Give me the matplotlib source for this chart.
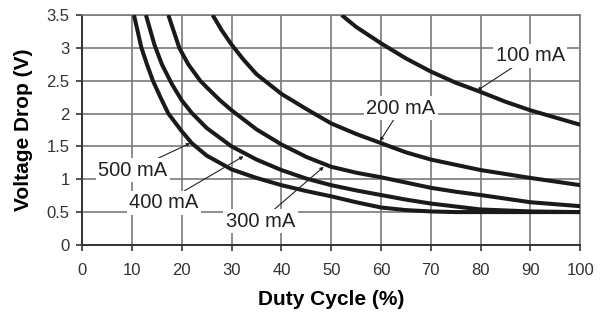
import matplotlib
matplotlib.use("Agg")
import matplotlib.pyplot as plt

plt.rcParams["font.family"] = ["Liberation Sans", "DejaVu Sans"]

# curves, (duty cycle %, voltage drop V)
x_100 = [52.1, 55, 60, 65, 70, 75, 80, 85, 90, 95, 100]
y_100 = [3.5, 3.32, 3.07, 2.84, 2.64, 2.47, 2.33, 2.18, 2.05, 1.94, 1.83]

x_200 = [26.2, 28, 30, 32.4, 35, 40, 45, 50, 55, 60, 65, 70, 75, 80, 90, 100]
y_200 = [3.5, 3.27, 3.05, 2.82, 2.6, 2.3, 2.07, 1.85, 1.69, 1.55, 1.41, 1.3, 1.22, 1.14, 1.02, 0.91]

x_300 = [17.3, 19.5, 21.3, 23.7, 25, 27.7, 30, 35, 40, 45, 50, 55, 60, 65, 70, 75, 80, 90, 100]
y_300 = [3.5, 3.0, 2.75, 2.5, 2.4, 2.2, 2.05, 1.76, 1.53, 1.34, 1.19, 1.1, 1.03, 0.95, 0.87, 0.81, 0.76, 0.65, 0.59]

x_400 = [12.8, 14.5, 16, 18, 20, 22, 25, 30, 35, 40, 45, 50, 55, 60, 65, 70, 80, 90, 100]
y_400 = [3.5, 3.05, 2.75, 2.45, 2.2, 2.01, 1.78, 1.5, 1.3, 1.14, 1.01, 0.91, 0.83, 0.76, 0.69, 0.63, 0.54, 0.51, 0.5]

x_500 = [10.4, 11.9, 13.0, 14.2, 15.7, 17.3, 20, 22, 25, 30, 35, 40, 45, 50, 55, 60, 65, 70, 75, 80, 90, 100]
y_500 = [3.5, 3.0, 2.75, 2.5, 2.25, 2.0, 1.73, 1.55, 1.36, 1.15, 1.02, 0.91, 0.82, 0.74, 0.65, 0.57, 0.53, 0.51, 0.5, 0.5, 0.5, 0.5]

x_ticks = [0, 10, 20, 30, 40, 50, 60, 70, 80, 90, 100]
y_ticks = [0, 0.5, 1, 1.5, 2, 2.5, 3, 3.5]
y_ticklabels = ["0", "0.5", "1", "1.5", "2", "2.5", "3", "3.5"]


def main():
    fig = plt.figure(figsize=(6, 3.14), dpi=100)
    ax = fig.add_axes([0.137, 0.22, 0.83, 0.732])

    grid_c = "#7a7a7a"
    for xs, ys in [(x_100, y_100), (x_200, y_200), (x_300, y_300),
                   (x_400, y_400), (x_500, y_500)]:
        ax.plot(xs, ys, color="#1a1a1a", lw=2.9, solid_capstyle="butt",
                solid_joinstyle="round", zorder=3)

    ax.set_xlim(0, 100)
    ax.set_ylim(0, 3.5)
    ax.set_xticks(x_ticks)
    ax.set_yticks(y_ticks)
    ax.set_yticklabels(y_ticklabels)
    ax.grid(True, color=grid_c, lw=1.2)
    ax.set_axisbelow(True)
    ax.tick_params(axis="both", labelsize=12, colors="#333333", length=4, width=1.2)
    ax.tick_params(axis="x", pad=9)
    ax.tick_params(axis="y", pad=5)

    for s in ["top", "right"]:
        ax.spines[s].set_color(grid_c)
        ax.spines[s].set_linewidth(1.2)
    for s in ["left", "bottom"]:
        ax.spines[s].set_color("#333333")
        ax.spines[s].set_linewidth(1.4)

    ax.set_xlabel("Duty Cycle (%)", fontsize=15, fontweight="bold", labelpad=9)
    ax.set_ylabel("Voltage Drop (V)", fontsize=15, fontweight="bold", labelpad=10)

    box = dict(boxstyle="square,pad=0.12", fc="white", ec="none")
    arrow = dict(arrowstyle="-|>", lw=0.8, color="#222222", mutation_scale=5,
                 shrinkA=0, shrinkB=0)
    notes = [
        ("100 mA", (79.3, 2.35), (90, 2.88)),
        ("200 mA", (59.8, 1.58), (64, 2.08)),
        ("500 mA", (21.7, 1.55), (10.2, 1.14)),
        ("400 mA", (32.4, 1.35), (16.4, 0.64)),
        ("300 mA", (48.5, 1.19), (35.8, 0.36)),
    ]
    for txt, tip, pos in notes:
        ax.annotate(txt, xy=tip, xytext=pos, fontsize=14.5, color="#222222",
                    ha="center", va="center", bbox=box, arrowprops=arrow, zorder=4)

    fig.savefig("out.png", dpi=100)


if __name__ == "__main__":
    main()
